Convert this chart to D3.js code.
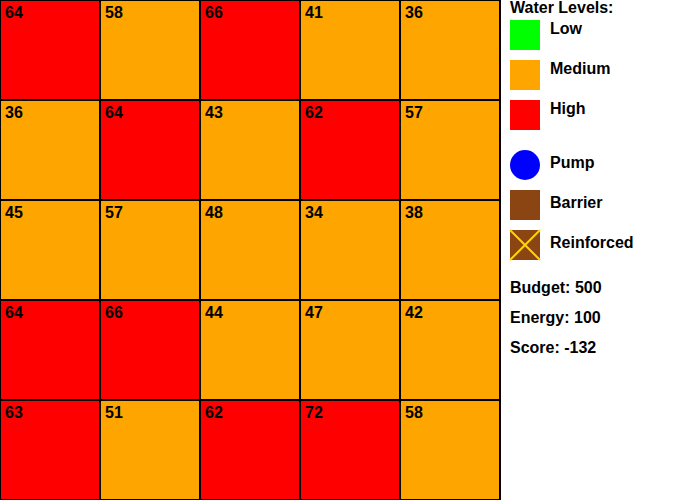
<!DOCTYPE html>
<html>
<head>
<meta charset="utf-8">
<script src="https://d3js.org/d3.v7.min.js"></script>
<style>
  html, body { margin: 0; padding: 0; background: #fff; }
  svg { display: block; }
  text { font-family: "Liberation Sans", Arial, sans-serif; font-weight: bold; fill: #000; }
</style>
</head>
<body>
<svg id="chart" width="700" height="500"></svg>
<script>
const rowIdx = [0, 1, 2, 3, 4];
const colIdx = [0, 1, 2, 3, 4];
const row0 = [64, 58, 66, 41, 36];
const row1 = [36, 64, 43, 62, 57];
const row2 = [45, 57, 48, 34, 38];
const row3 = [64, 66, 44, 47, 42];
const row4 = [63, 51, 62, 72, 58];
const levelNames = ["Low", "Medium", "High"];
const levelColors = ["#00ff00", "#ffa500", "#ff0000"];
const levelThresholds = [30, 60];
const structNames = ["Pump", "Barrier", "Reinforced"];
const statsLabels = ["Budget", "Energy", "Score"];
const statsValues = [500, 100, -132];

const rows = [row0, row1, row2, row3, row4];
const svg = d3.select("#chart");
const FS = 16;

const x = d3.scaleBand().domain(colIdx).range([0, 500]);
const y = d3.scaleBand().domain(rowIdx).range([0, 500]);
const color = d3.scaleThreshold().domain(levelThresholds).range(levelColors);

const cells = [];
rows.forEach((r, ri) => r.forEach((v, ci) => cells.push({ r: ri, c: ci, v })));

const g = svg.append("g");
const cg = g.selectAll("g.cell").data(cells).join("g").attr("class", "cell");
cg.append("rect")
  .attr("x", d => x(d.c)).attr("y", d => y(d.r))
  .attr("width", x.bandwidth()).attr("height", y.bandwidth())
  .attr("fill", d => color(d.v))
  .attr("stroke", "#000").attr("stroke-width", 2);
cg.append("text")
  .attr("x", d => x(d.c) + 5).attr("y", d => y(d.r) + 18)
  .attr("font-size", FS)
  .text(d => d.v);

// Legend
const lg = svg.append("g");
lg.append("text").attr("x", 510).attr("y", 13).attr("font-size", FS).text("Water Levels:");

const ly = d3.scalePoint().domain(levelNames).range([20, 100]);
levelNames.forEach((n, i) => {
  lg.append("rect").attr("x", 510).attr("y", ly(n)).attr("width", 30).attr("height", 30)
    .attr("fill", levelColors[i]);
  lg.append("text").attr("x", 550).attr("y", ly(n) + 13.5).attr("font-size", FS).text(n);
});

const sy = d3.scalePoint().domain(structNames).range([150, 230]);
// Pump
lg.append("circle").attr("cx", 525).attr("cy", sy("Pump") + 15).attr("r", 15).attr("fill", "#0000ff");
// Barrier
lg.append("rect").attr("x", 510).attr("y", sy("Barrier")).attr("width", 30).attr("height", 30).attr("fill", "#8b4513");
// Reinforced
lg.append("rect").attr("x", 510).attr("y", sy("Reinforced")).attr("width", 30).attr("height", 30).attr("fill", "#8b4513");
lg.append("line").attr("x1", 510).attr("y1", sy("Reinforced")).attr("x2", 540).attr("y2", sy("Reinforced") + 30)
  .attr("stroke", "#ffd700").attr("stroke-width", 2);
lg.append("line").attr("x1", 540).attr("y1", sy("Reinforced")).attr("x2", 510).attr("y2", sy("Reinforced") + 30)
  .attr("stroke", "#ffd700").attr("stroke-width", 2);
structNames.forEach(n => {
  lg.append("text").attr("x", 550).attr("y", sy(n) + 17.5).attr("font-size", FS).text(n);
});

const ty = d3.scalePoint().domain(statsLabels).range([293, 353]);
statsLabels.forEach((n, i) => {
  lg.append("text").attr("x", 510).attr("y", ty(n)).attr("font-size", FS).text(n + ": " + statsValues[i]);
});
</script>
</body>
</html>
